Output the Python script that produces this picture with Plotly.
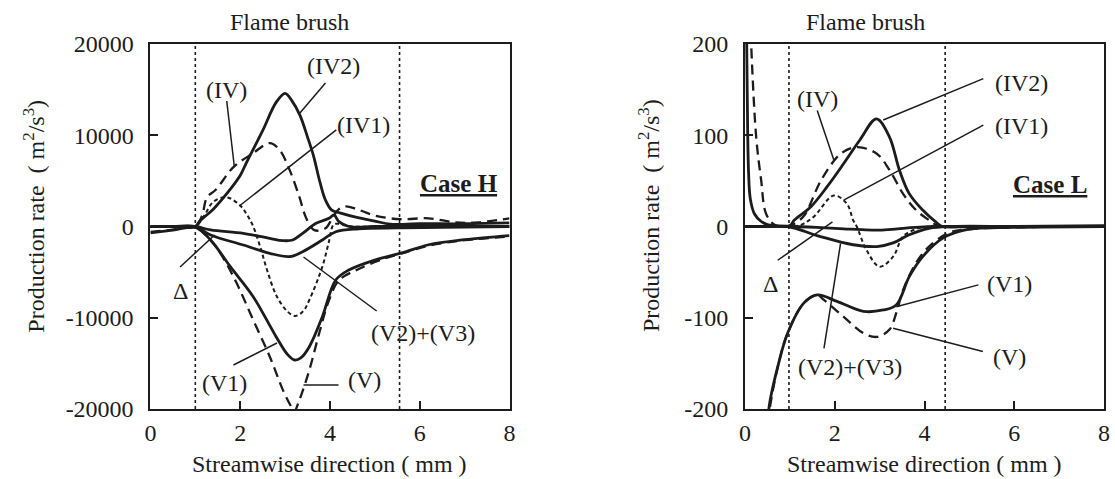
import plotly.graph_objects as go

# ---------------- Case H (left panel) ----------------
xH_IV = [0, 0.5, 1.0, 1.15, 1.26, 1.45, 1.85, 2.29, 2.66, 2.88, 3.1, 3.32, 3.46, 3.65, 3.9, 4.05, 4.2, 4.35, 4.6, 5.0, 5.56, 6.2, 6.8, 7.3, 8.0]
yH_IV = [0, 0, 0, 1200, 3200, 4000, 6500, 8050, 9140, 8380, 6200, 3230, 1040, -400, -200, 900, 1900, 2200, 1900, 1200, 800, 900, 450, 450, 900]

xH_IV1 = [0, 0.5, 1.0, 1.2, 1.4, 1.7, 2.0, 2.15, 2.29, 2.45, 2.6, 2.8, 3.03, 3.22, 3.4, 3.54, 3.83, 3.98, 4.08, 4.2, 4.5, 5, 6, 7, 8]
yH_IV1 = [0, 0, 0, 1200, 2700, 3200, 2300, 1300, 0, -2300, -4800, -7500, -9200, -9800, -9300, -8050, -4400, -1600, 200, 300, 0, 0, 0, 0, 0]

xH_IV2 = [0, 0.5, 1.0, 1.1, 1.4, 1.7, 2.0, 2.14, 2.5, 2.8, 3.0, 3.15, 3.33, 3.5, 3.63, 3.78, 3.9, 4.04, 4.22, 4.6, 5.0, 5.34, 6, 7, 8]
yH_IV2 = [0, 0, 0, 600, 1900, 3600, 5600, 7000, 10500, 13600, 14600, 13800, 12200, 9800, 7800, 4800, 2900, 1800, 1500, 1000, 600, 250, 300, 300, 400]

xH_V = [0, 0.5, 1.0, 1.3, 1.56, 1.92, 2.29, 2.66, 2.95, 3.13, 3.2, 3.32, 3.54, 3.76, 3.98, 4.2, 4.64, 5.22, 5.6, 6.2, 7.0, 8.0]
yH_V = [-600, -350, -100, -1300, -2940, -6200, -10250, -14270, -17900, -19700, -20300, -19000, -15730, -11700, -8050, -5900, -4650, -3500, -2950, -2100, -1500, -1100]

xH_V1 = [0, 0.5, 1.0, 1.34, 1.78, 2.29, 2.8, 3.05, 3.21, 3.35, 3.54, 3.83, 4.13, 4.42, 5.0, 5.6, 6.2, 7.0, 8.0]
yH_V1 = [-700, -400, -100, -1480, -4400, -7690, -12080, -14000, -14630, -14400, -13170, -9880, -5860, -4770, -3670, -2900, -2000, -1450, -1000]

xH_V23 = [0, 0.5, 1.0, 1.34, 2.07, 2.66, 3.1, 3.39, 3.83, 4.13, 4.64, 5.5, 6.5, 8.0]
yH_V23 = [0, 0, 0, -930, -2030, -2940, -3300, -2760, -1480, -570, -250, -150, -100, 0]

xH_D = [0, 0.5, 1.0, 1.34, 2.07, 2.66, 2.95, 3.17, 3.39, 3.69, 3.98, 4.09, 4.2, 4.42, 5.0, 6.0, 8.0]
yH_D = [0, 0, 0, -380, -750, -1300, -1550, -1480, -750, 350, 900, 1260, 530, 0, 0, 0, 0]

# ---------------- Case L (right panel) ----------------
xL_IV = [0.12, 0.14, 0.25, 0.36, 0.47, 0.66, 1.0, 1.1, 1.32, 1.7, 2.14, 2.5, 2.93, 3.22, 3.52, 3.81, 4.1, 4.3, 5.0, 6.0, 8.0]
yL_IV = [230, 198, 98, 51, 14, 2, 0, 3, 12, 51, 80, 87, 80, 62, 36, 18, 7, 1, 0, 0, 0]

xL_IV1 = [0, 0.5, 1.0, 1.2, 1.32, 1.54, 1.98, 2.27, 2.41, 2.49, 2.71, 3.0, 3.3, 3.52, 3.8, 4.1, 5.0, 6.0, 8.0]
yL_IV1 = [0, 0, 0, 1, 3.5, 11, 34, 25, 7, 0, -26, -44, -33, -11, -3, 0, 0, 0, 0]

xL_IV2 = [0.03, 0.05, 0.08, 0.12, 0.21, 0.35, 0.5, 0.8, 1.0, 1.1, 1.47, 1.83, 2.2, 2.56, 2.93, 3.22, 3.44, 3.66, 3.96, 4.25, 4.4, 5.0, 6.0, 8.0]
yL_IV2 = [240, 150, 60, 30, 14, 6, 2, 0.5, 1, 7, 21.7, 43.6, 69, 94.8, 118, 98, 62, 36, 18, 5, 0, 0, 0, 1]

xL_V = [0.52, 0.56, 0.75, 0.95, 1.31, 1.61, 1.76, 2.2, 2.64, 2.94, 3.22, 3.37, 3.52, 3.81, 4.1, 4.54, 5.0, 6.0, 8.0]
yL_V = [-215, -197, -150, -117, -84, -75, -80.5, -99, -117, -121, -113, -95, -70, -40, -22, -7, -3, -1, 0]

xL_V1 = [0.52, 0.54, 0.75, 0.95, 1.31, 1.61, 2.05, 2.64, 3.08, 3.37, 3.66, 3.96, 4.4, 4.99, 6.0, 8.0]
yL_V1 = [-215, -197, -150, -117, -84, -75, -82, -93, -91.5, -86, -55, -33, -13, -3, -1, 0]

xL_V23 = [0, 0.5, 0.95, 1.68, 2.41, 2.94, 3.3, 3.66, 4.1, 4.6, 6.0, 8.0]
yL_V23 = [0, 0, 0, -11, -20, -22, -18, -9, -2, 0, 0, 0]

xL_D = [0, 0.5, 1.0, 1.6, 2.2, 2.6, 3.0, 3.4, 3.8, 4.4, 6.0, 8.0]
yL_D = [0, 0, 0, -1, -2.5, -3.5, -4, -2.5, -1, 0, 0, 0]

# ---------------- axes / labels ----------------
x_ticks = [0, 2, 4, 6, 8]
yH_ticks = [-20000, -10000, 0, 10000, 20000]
yH_ticktext = ["-20000", "-10000", "0", "10000", "20000"]
yL_ticks = [-200, -100, 0, 100, 200]
yL_ticktext = ["-200", "-100", "0", "100", "200"]
flame_H = [1.0, 5.55]
flame_L = [0.98, 4.46]

FONT = "Liberation Serif, Times New Roman, DejaVu Serif, serif"
INK = "#1c1c1c"
W, H = 1115, 479
FS = 24

fig = go.Figure()

def add_series(x, y, xa, ya, style):
    if style == "solid":
        line = dict(color=INK, width=2.8)
    elif style == "dash":
        line = dict(color=INK, width=2.3, dash="10px,6px")
    else:
        line = dict(color=INK, width=2.0, dash="4px,3px")
    fig.add_trace(go.Scatter(x=x, y=y, mode="lines", line=line,
                             line_shape="spline", xaxis=xa, yaxis=ya,
                             showlegend=False, hoverinfo="skip"))

# left
add_series(xH_IV, yH_IV, "x", "y", "dash")
add_series(xH_IV1, yH_IV1, "x", "y", "dot")
add_series(xH_IV2, yH_IV2, "x", "y", "solid")
add_series(xH_V, yH_V, "x", "y", "dash")
add_series(xH_V1, yH_V1, "x", "y", "solid")
add_series(xH_V23, yH_V23, "x", "y", "solid")
add_series(xH_D, yH_D, "x", "y", "solid")
# right
add_series(xL_IV, yL_IV, "x2", "y2", "dash")
add_series(xL_IV1, yL_IV1, "x2", "y2", "dot")
add_series(xL_IV2, yL_IV2, "x2", "y2", "solid")
add_series(xL_V, yL_V, "x2", "y2", "dash")
add_series(xL_V1, yL_V1, "x2", "y2", "solid")
add_series(xL_V23, yL_V23, "x2", "y2", "solid")
add_series(xL_D, yL_D, "x2", "y2", "solid")

shapes = []
for xv in flame_H:
    shapes.append(dict(type="line", xref="x", yref="y domain", x0=xv, x1=xv, y0=0, y1=1,
                       line=dict(color=INK, width=1.6, dash="3px,3px")))
for xv in flame_L:
    shapes.append(dict(type="line", xref="x2", yref="y2 domain", x0=xv, x1=xv, y0=0, y1=1,
                       line=dict(color=INK, width=1.6, dash="3px,3px")))

# pointer lines (from label to curve)
ptrs_H = [((1.70, 13750), (1.87, 6520)),
          ((3.90, 15730), (3.33, 12440)),
          ((4.14, 10580), (1.98, 2250)),
          ((0.66, -4440), (1.43, -930)),
          ((5.04, -9260), (3.41, -3340)),
          ((1.85, -15180), (2.82, -12770)),
          ((4.19, -17370), (3.41, -17370))]
ptrs_L = [((1.61, 127), (1.98, 73)),
          ((5.31, 162), (3.08, 116.7)),
          ((5.31, 111), (2.2, 29)),
          ((0.73, -37), (1.95, 5)),
          ((5.2, -64), (3.37, -88)),
          ((5.3, -137), (3.3, -111.6)),
          ((1.76, -133.5), (2.13, -18.4))]
for (a, b) in ptrs_H:
    shapes.append(dict(type="line", xref="x", yref="y", x0=a[0], y0=a[1], x1=b[0], y1=b[1],
                       line=dict(color=INK, width=1.5)))
for (a, b) in ptrs_L:
    shapes.append(dict(type="line", xref="x2", yref="y2", x0=a[0], y0=a[1], x1=b[0], y1=b[1],
                       line=dict(color=INK, width=1.5)))

labels_H = [("(IV)", 1.70, 14960), ("(IV2)", 4.07, 17590), ("(IV1)", 4.74, 11120),
            ("Δ", 0.66, -7070), ("(V2)+(V3)", 6.08, -11670), ("(V1)", 1.65, -17150),
            ("(V)", 4.78, -16820)]
labels_L = [("(IV)", 1.61, 140), ("(IV2)", 6.16, 157.7), ("(IV1)", 6.16, 110),
            ("Δ", 0.58, -63), ("(V1)", 5.89, -63), ("(V)", 5.89, -143),
            ("(V2)+(V3)", 2.34, -154)]

def txt(text, x, y, xref, yref, size=FS, **kw):
    return dict(text=text, x=x, y=y, xref=xref, yref=yref, showarrow=False,
                xanchor=kw.pop("xanchor", "center"), yanchor=kw.pop("yanchor", "middle"),
                font=dict(family=FONT, size=size, color=INK), **kw)

ann = []
for t, xx, yy in labels_H:
    ann.append(txt(t, xx, yy, "x", "y"))
for t, xx, yy in labels_L:
    ann.append(txt(t, xx, yy, "x2", "y2"))

ann.append(txt("<b><u>Case H</u></b>", 6.87, 4660, "x", "y", size=25))
ann.append(txt("<b><u>Case L</u></b>", 6.79, 46, "x2", "y2", size=25))

# titles above the panels
ann.append(txt("Flame brush", 3.1, (409 - 22) / 365, "x", "paper"))
ann.append(txt("Flame brush", 2.68, (409 - 22) / 365, "x2", "paper"))

# axis titles
ytitle = "Production rate  ( m<sup>2</sup>/s<sup>3</sup>)"
xtitle = "Streamwise direction ( mm )"
ann.append(txt(ytitle, 28 / W, (409 - 216) / 365, "paper", "paper", textangle=-90))
ann.append(txt(ytitle, 650 / W, (409 - 216) / 365, "paper", "paper", textangle=-90))
ann.append(txt(xtitle, 4, (409 - 464) / 365, "x", "paper"))
ann.append(txt(xtitle, 4, (409 - 464) / 365, "x2", "paper"))

axis_common = dict(showgrid=False, zeroline=False, showline=True, linecolor=INK, linewidth=2,
                   mirror=True, ticks="inside", ticklen=8, tickwidth=1.6, tickcolor=INK,
                   tickfont=dict(family=FONT, size=FS, color=INK))

fig.update_layout(
    width=W, height=H,
    margin=dict(l=0, r=0, t=44, b=70),
    paper_bgcolor="white", plot_bgcolor="white",
    font=dict(family=FONT, size=FS, color=INK),
    xaxis=dict(domain=[146 / W, 509 / W], range=[0, 8], tickvals=x_ticks, anchor="y",
               ticklabelstandoff=1, **axis_common),
    yaxis=dict(domain=[0, 1], range=[-20000, 20000], tickvals=yH_ticks, ticktext=yH_ticktext,
               anchor="x", ticklabelstandoff=10, **axis_common),
    xaxis2=dict(domain=[747 / W, 1110 / W], range=[0, 8], tickvals=x_ticks, anchor="y2",
                ticklabelstandoff=1, **axis_common),
    yaxis2=dict(domain=[0, 1], range=[-200, 200], tickvals=yL_ticks, ticktext=yL_ticktext,
                anchor="x2", ticklabelstandoff=10, **axis_common),
    shapes=shapes,
    annotations=ann,
)

fig.write_html("out.html")
